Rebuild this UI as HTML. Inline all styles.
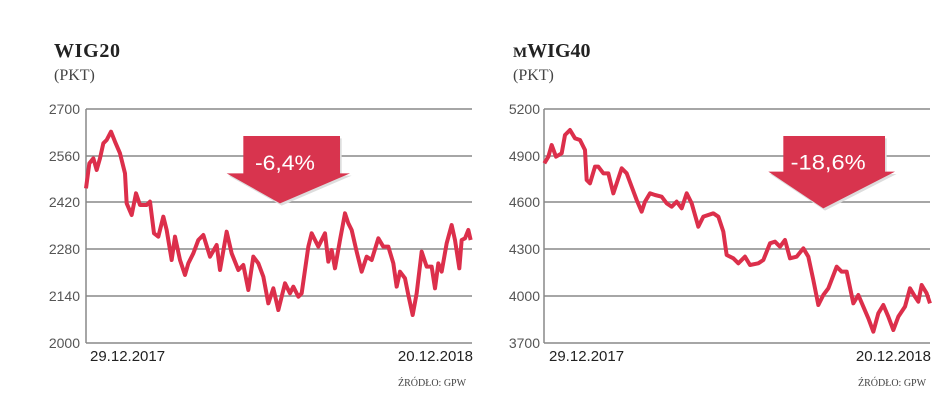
<!DOCTYPE html>
<html><head><meta charset="utf-8"><style>
html,body{margin:0;padding:0;background:#fff;}
svg{display:block;}
</style></head><body>
<svg width="948" height="407" viewBox="0 0 948 407" xmlns="http://www.w3.org/2000/svg">
<rect width="948" height="407" fill="#fff"/>
<g font-family="Liberation Serif, serif" fill="#222">
<text x="54" y="57" font-size="20" font-weight="bold" textLength="66">WIG20</text>
<text x="54" y="80" font-size="16" fill="#444">(PKT)</text>
<text x="513" y="57" font-size="20" font-weight="bold"><tspan font-size="15">M</tspan>WIG40</text>
<text x="513" y="80" font-size="16" fill="#444">(PKT)</text>
<text x="398" y="386" font-size="10" fill="#444">ŹRÓDŁO: GPW</text>
<text x="858" y="386" font-size="10" fill="#444">ŹRÓDŁO: GPW</text>
</g>
<g stroke="#888" stroke-width="1.5">
<line x1="86" y1="109" x2="472" y2="109"/><line x1="86" y1="156" x2="472" y2="156"/><line x1="86" y1="202" x2="472" y2="202"/><line x1="86" y1="249" x2="472" y2="249"/><line x1="86" y1="296" x2="472" y2="296"/><line x1="86" y1="343" x2="472" y2="343"/><line x1="86" y1="109" x2="86" y2="343"/>
<line x1="544" y1="109" x2="930" y2="109"/><line x1="544" y1="156" x2="930" y2="156"/><line x1="544" y1="202" x2="930" y2="202"/><line x1="544" y1="249" x2="930" y2="249"/><line x1="544" y1="296" x2="930" y2="296"/><line x1="544" y1="343" x2="930" y2="343"/><line x1="544" y1="109" x2="544" y2="343"/>
</g>
<g font-family="Liberation Sans Narrow, Liberation Sans, sans-serif" font-size="14" fill="#555" text-anchor="end">
<text x="80" y="114">2700</text><text x="80" y="161">2560</text><text x="80" y="207">2420</text><text x="80" y="254">2280</text><text x="80" y="301">2140</text><text x="80" y="348">2000</text>
<text x="540" y="114">5200</text><text x="540" y="161">4900</text><text x="540" y="207">4600</text><text x="540" y="254">4300</text><text x="540" y="301">4000</text><text x="540" y="348">3700</text>
</g>
<g font-family="Liberation Sans Narrow, Liberation Sans, sans-serif" font-size="15" fill="#222">
<text x="90" y="361">29.12.2017</text><text x="473" y="361" text-anchor="end">20.12.2018</text>
<text x="549" y="361">29.12.2017</text><text x="931" y="361" text-anchor="end">20.12.2018</text>
</g>
<g transform="translate(0,30) scale(0.33333)">
<polygon points="735,325 1025,325 1025,437 1055,437 845,527 685,437 735,437" fill="#ddd"/>
<polygon points="730,318 1020,318 1020,430 1050,430 840,520 680,430 730,430" fill="#d8344e"/>
<text x="765" y="420" font-family="Liberation Sans Narrow, Liberation Sans, sans-serif" font-size="64" fill="#fff" textLength="180" lengthAdjust="spacingAndGlyphs">-6,4%</text>
<polyline fill="none" stroke="#dc2f4b" stroke-width="12" stroke-linejoin="round" points="258,475 268,400 280,385 290,420 300,385 310,340 320,330 333,305 345,335 360,370 375,430 380,520 395,555 408,490 420,525 440,525 450,515 462,610 475,620 490,560 500,600 515,690 525,620 540,690 555,735 565,700 580,670 595,630 610,615 630,680 650,645 660,720 680,605 695,670 715,720 730,705 745,780 760,680 775,700 790,740 805,820 820,775 835,840 855,760 870,790 880,770 895,800 905,790 925,650 935,610 955,650 975,610 985,695 995,660 1005,715 1020,630 1035,550 1045,580 1055,600 1070,665 1085,725 1100,680 1115,690 1135,625 1150,650 1165,650 1180,700 1190,770 1200,725 1215,745 1225,795 1238,855 1250,790 1265,665 1280,710 1295,710 1305,775 1315,700 1325,725 1340,640 1355,585 1365,630 1378,715 1385,630 1395,625 1405,600 1412,630"/>
</g>
<g transform="translate(480,30) scale(0.33333)">
<polygon points="915,325 1220,325 1220,432 1250,432 1035,542 870,432 915,432" fill="#ddd"/>
<polygon points="910,318 1215,318 1215,425 1245,425 1030,535 865,425 910,425" fill="#d8344e"/>
<text x="932" y="418" font-family="Liberation Sans Narrow, Liberation Sans, sans-serif" font-size="64" fill="#fff" textLength="225" lengthAdjust="spacingAndGlyphs">-18,6%</text>
<polyline fill="none" stroke="#dc2f4b" stroke-width="12" stroke-linejoin="round" points="193,400 205,380 215,345 228,380 245,370 255,315 270,300 285,325 300,330 315,360 320,450 330,460 345,410 355,410 370,430 385,430 400,490 410,460 425,415 440,430 455,470 470,510 485,545 495,515 510,490 525,495 545,500 560,520 575,530 590,515 605,535 620,490 635,520 655,590 670,560 700,550 715,560 730,605 740,675 760,685 775,700 795,680 810,705 835,700 850,690 870,640 885,635 900,650 915,630 930,685 950,680 970,655 985,680 1000,750 1015,825 1030,795 1045,775 1070,710 1085,725 1100,725 1120,820 1135,795 1150,830 1165,865 1180,905 1195,850 1210,825 1225,860 1240,900 1255,860 1275,830 1290,775 1305,800 1315,815 1325,765 1340,790 1350,820"/>
</g>
</svg>
</body></html>
